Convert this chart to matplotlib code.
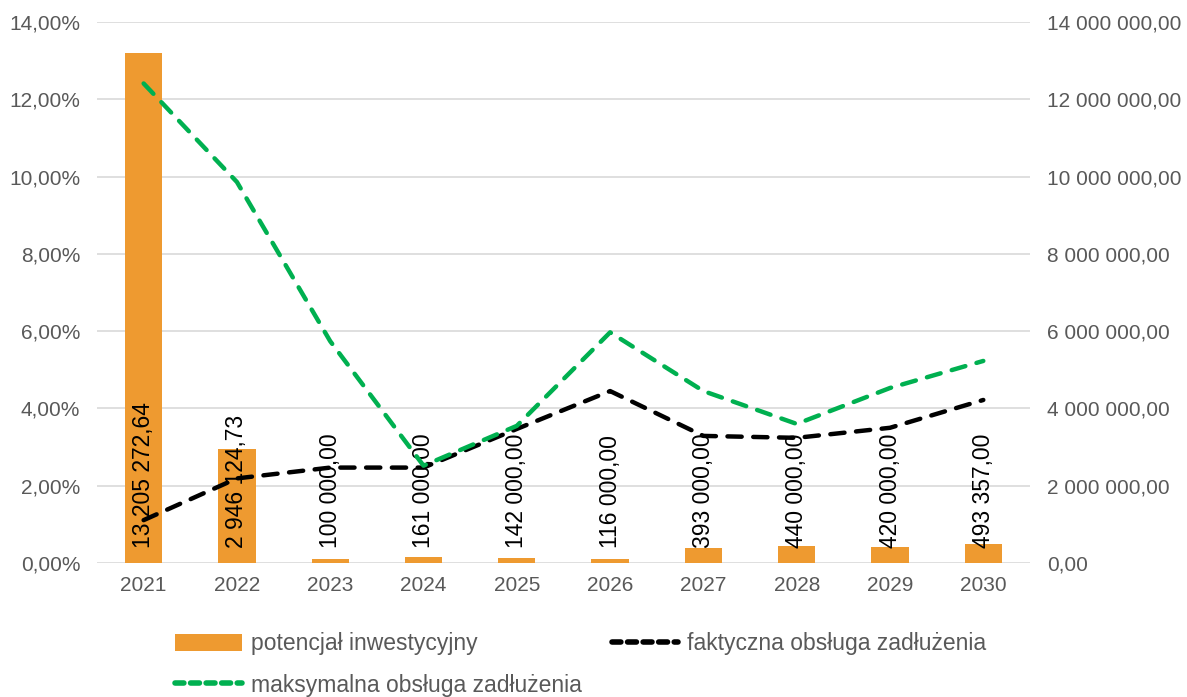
import numpy as np
import matplotlib
matplotlib.use("Agg")
import matplotlib.pyplot as plt
from matplotlib.ticker import FuncFormatter
from matplotlib.lines import Line2D
from matplotlib.patches import Patch

# data
years = ["2021", "2022", "2023", "2024", "2025", "2026", "2027", "2028", "2029", "2030"]
potencjal = [13205272.64, 2946124.73, 100000.00, 161000.00, 142000.00,
             116000.00, 393000.00, 440000.00, 420000.00, 493357.00]
faktyczna = [1.11, 2.19, 2.47, 2.47, 3.47, 4.45, 3.29, 3.24, 3.50, 4.22]
maksymalna = [12.41, 9.86, 5.74, 2.52, 3.55, 5.97, 4.45, 3.60, 4.53, 5.23]

plt.rcParams['font.family'] = ['Liberation Sans', 'DejaVu Sans']
grey = '#595959'
orange = '#ee9a30'
green = '#00b050'


def pl_num(v, dec=2):
    s = f"{v:,.{dec}f}"
    return s.replace(",", " ").replace(".", ",")


fig = plt.figure(figsize=(11.87, 6.97), dpi=100)
ax2 = fig.add_axes([0.0817, 0.1922, 0.7860, 0.7762])
ax = ax2.twinx()
# lines axis drawn above bars
ax.set_zorder(ax2.get_zorder() + 1)
ax.patch.set_visible(False)

x = np.arange(len(years))

# bars on right axis
ax2.bar(x, potencjal, width=0.4, color=orange, zorder=2)
ax2.set_ylim(0, 14000000)
ax2.set_yticks(np.arange(0, 14000001, 2000000))
ax2.yaxis.tick_right()
ax2.yaxis.set_major_formatter(FuncFormatter(lambda v, p: pl_num(v)))
ax2.grid(axis='y', color='#d9d9d9', lw=1.2, zorder=0)
ax2.set_axisbelow(True)
for xi, v in zip(x, potencjal):
    ax2.annotate(pl_num(v), (xi, 0), xytext=(0, 11), textcoords='offset points',
                 rotation=90, ha='center', va='bottom', fontsize=16.5,
                 color='black', zorder=3)

# lines on left axis
ax.plot(x, faktyczna, color='black', lw=3.2, dashes=(3.2, 2.6),
        dash_capstyle='round', zorder=4)
ax.plot(x, maksymalna, color=green, lw=3.2, dashes=(3.2, 2.6),
        dash_capstyle='round', zorder=4)
ax.set_ylim(0, 14)
ax.set_yticks(np.arange(0, 15, 2))
ax.yaxis.tick_left()
ax.yaxis.set_major_formatter(FuncFormatter(lambda v, p: f"{v:.2f}%".replace(".", ",")))

ax2.set_xlim(-0.5, len(years) - 0.5)
ax2.set_xticks(x)
ax2.set_xticklabels(years)

for a in (ax, ax2):
    for s in a.spines.values():
        s.set_visible(False)
    a.tick_params(length=0, labelsize=15, labelcolor=grey)
ax2.tick_params(axis='x', pad=9)
ax2.tick_params(axis='y', pad=12)
ax.tick_params(axis='y', pad=12)

handles = [
    Patch(facecolor=orange, label='potencjał inwestycyjny'),
    Line2D([], [], color=green, lw=4, dashes=(1.6, 1.2), dash_capstyle='round',
           label='maksymalna obsługa zadłużenia'),
    Line2D([], [], color='black', lw=4, dashes=(1.6, 1.2), dash_capstyle='round',
           label='faktyczna obsługa zadłużenia'),
]
leg = fig.legend(handles=handles, ncol=2, loc='upper left',
                 bbox_to_anchor=(0.138, 0.109), frameon=False, fontsize=16.5,
                 handlelength=2.9, handleheight=0.8, handletextpad=0.4,
                 columnspacing=1.3, labelspacing=0.8, borderpad=0)
for t in leg.get_texts():
    t.set_color(grey)

fig.savefig('out.png', dpi=100)
